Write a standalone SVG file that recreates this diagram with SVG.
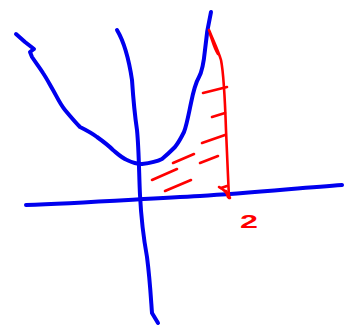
<svg xmlns="http://www.w3.org/2000/svg" width="344" height="327" viewBox="0 0 344 327">
<style>
.b{fill:none;stroke:#0000ee;stroke-width:4;stroke-linecap:round;stroke-linejoin:round}
.r{fill:none;stroke:#ff0000;stroke-width:2.6;stroke-linecap:round;stroke-linejoin:round}
</style>
<rect width="344" height="327" fill="#fff"/>
<g id="axes">
<path class="b" d="M26,205 C80,203 140,199 200,196 C250,193 300,188 342,185"/>
<path class="b" d="M117,30 C123,40 129,60 132,80 C133,95 134,110 137,130 C139,150 139,175 140,195 C141,215 143,235 147,257 C150,280 151,300 152,313 L158,323"/>
</g>
<g id="parabola">
<path class="b" d="M16,34 L25,42 L34,49 L30,52 L32,57 C36,63 40,68 43,73 C47,79 50,85 53,90 C57,97 60,104 65,110 C70,116 75,122 80,127 C88,131 93,134 97,137 C104,142 109,146 113,150 C119,155 122,158 127,160 C131,162 136,164 142,164 C150,163 156,162 162,159 C168,154 172,150 175,147 C179,142 181,138 184,132 C187,124 189,112 191,103 C193,93 195,84 199,77 C203,70 204,60 205,50 C206,38 208,25 211,12"/>
</g>
<g id="shading">
<path class="r" d="M209,30 C213,40 218,50 221,60 C224,75 225,100 226,130 C227,155 228,175 229,198"/>
<path class="r" d="M210,34 C213,42 214,48 218,54"/>
<path class="r" stroke-width="3.5" d="M219,187 C224,189 227,193 230,198 L226,191 L228,197"/>
<path class="r" d="M203,93 L227,87"/>
<path class="r" d="M212,117 L225,113"/>
<path class="r" d="M202,143 L225,135"/>
<path class="r" d="M173,163 L194,154"/>
<path class="r" d="M200,163 L218,156"/>
<path class="r" d="M152,180 L177,169"/>
<path class="r" d="M165,191 L191,180"/>
<path class="r" d="M221,188 L227,186"/>
</g>
<g id="label">
<text transform="translate(240,228) scale(1.7,1)" font-family="'Liberation Sans', sans-serif" font-size="19" font-weight="bold" fill="#ff0000">2</text>
</g>
</svg>
